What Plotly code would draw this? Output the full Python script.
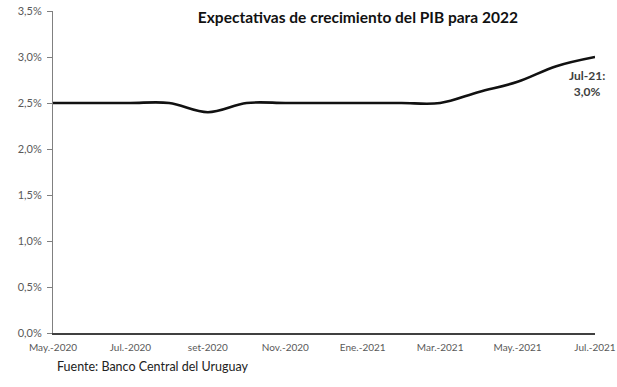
import plotly.graph_objects as go

months = ["May.-2020", "Jun.-2020", "Jul.-2020", "Ago.-2020", "set-2020", "Oct.-2020",
          "Nov.-2020", "Dic.-2020", "Ene.-2021", "Feb.-2021", "Mar.-2021", "Abr.-2021",
          "May.-2021", "Jun.-2021", "Jul.-2021"]
values = [2.5, 2.5, 2.5, 2.5, 2.4, 2.5, 2.5, 2.5, 2.5, 2.5, 2.5, 2.62, 2.73, 2.9, 3.0]
tick_labels = ["May.-2020", "Jul.-2020", "set-2020", "Nov.-2020", "Ene.-2021",
               "Mar.-2021", "May.-2021", "Jul.-2021"]
y_ticks = [0, 0.5, 1.0, 1.5, 2.0, 2.5, 3.0, 3.5]
y_labels = [f"{v:.1f}%".replace(".", ",") for v in y_ticks]

xs = list(range(len(months)))
tick_pos = [months.index(t) for t in tick_labels]

fig = go.Figure()
fig.add_trace(go.Scatter(x=xs, y=values, mode="lines",
                         line=dict(color="#111111", width=2.6, shape="spline", smoothing=1.0),
                         hoverinfo="skip", showlegend=False))

fig.add_annotation(x=xs[-1], y=values[-1], text="<b>Jul-21:<br>3,0%</b>",
                   showarrow=False, xanchor="center", yanchor="top",
                   xshift=-8, yshift=-9, align="center",
                   font=dict(family="Lato", size=12, color="#404040"))

fig.add_annotation(xref="paper", yref="paper", x=0.003, y=-0.074, xanchor="left", yanchor="top",
                   text="Fuente: Banco Central del Uruguay", showarrow=False,
                   font=dict(family="Lato", size=12.5, color="#222222"))

fig.update_layout(
    width=617, height=387,
    margin=dict(l=53, r=22, t=11, b=54, autoexpand=False),
    paper_bgcolor="white", plot_bgcolor="white",
    title=dict(text="<b>Expectativas de crecimiento del PIB para 2022</b>",
               x=0.58, xanchor="center", y=0.955, yanchor="middle",
               font=dict(family="Lato", size=15.5, color="#111111")),
    font=dict(family="Lato"),
)
fig.update_xaxes(range=[0, len(months) - 1], tickvals=tick_pos, ticktext=tick_labels,
                 automargin=False,
                 showgrid=False, zeroline=False, showline=True, linecolor="#404040", linewidth=1.5,
                 ticks="outside", ticklen=4, tickcolor="rgba(0,0,0,0)",
                 tickfont=dict(family="Lato", size=10, color="#595959"))
fig.update_yaxes(range=[0, 3.5], tickvals=y_ticks, ticktext=y_labels,
                 automargin=False, ticklabelstandoff=3,
                 showgrid=False, zeroline=False, showline=True, linecolor="#808080", linewidth=1,
                 ticks="outside", ticklen=5, tickcolor="#808080",
                 tickfont=dict(family="Lato", size=11, color="#595959"))

fig.write_html("out.html", config={"displayModeBar": False},
               post_script="document.body.style.margin='0';document.body.style.padding='0';")
